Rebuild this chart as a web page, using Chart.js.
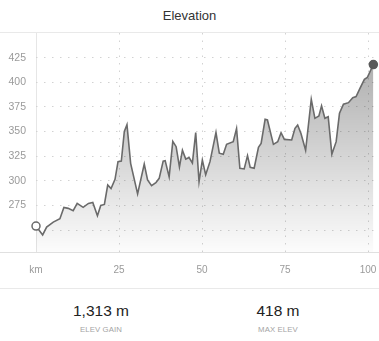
<!DOCTYPE html>
<html>
<head>
<meta charset="utf-8">
<script src="https://cdn.jsdelivr.net/npm/chart.js@4.4.1/dist/chart.umd.min.js"></script>
<style>
  html, body { margin: 0; padding: 0; background: #fff; }
  body { width: 379px; height: 341px; position: relative; overflow: hidden; font-family: "Liberation Sans", Arial, sans-serif; }
  #title { position: absolute; left: 0; top: 0; width: 379px; height: 32px; line-height: 32px; text-align: center; font-size: 13px; color: #333; }
  .sep { position: absolute; left: 0; width: 379px; height: 1px; background: #e9e9e9; }
  #chartWrap { position: absolute; left: 0; top: 33px; width: 379px; height: 255px; }
  .stat { position: absolute; width: 140px; text-align: center; }
  .val { font-size: 15.5px; color: #222; height: 20px; line-height: 20px; }
  .lab { font-size: 7.8px; color: #a4a4a4; letter-spacing: 0.1px; margin-top: 4px; }
</style>
</head>
<body>
<div id="title">Elevation</div>
<div class="sep" style="top:32px;"></div>
<div class="sep" style="top:252px;background:#e0e0e0;"></div>
<div id="chartWrap"><canvas id="c" width="379" height="255"></canvas></div>
<div class="sep" style="top:288px;"></div>
<div class="stat" style="left:31px;top:301px;"><div class="val" id="gainVal"></div><div class="lab" id="gainLab"></div></div>
<div class="stat" style="left:208px;top:301px;"><div class="val" id="maxVal"></div><div class="lab" id="maxLab"></div></div>
<script>
const distanceKm = [0, 2.0, 3.2, 5.2, 7.2, 8.4, 9.7, 11.2, 12.4, 14.2, 15.8, 17.1, 18.5, 19.5, 20.6, 21.6, 22.6, 23.8, 24.7, 25.7, 26.6, 27.4, 28.5, 30.6, 32.6, 33.6, 34.8, 36.1, 37.1, 38.3, 38.9, 40.1, 41.2, 42.2, 43.2, 44.1, 45.1, 46.1, 47.1, 48.1, 49.1, 50.1, 51.1, 52.4, 54.2, 55.2, 56.4, 57.4, 59.4, 60.4, 61.4, 62.7, 63.7, 64.5, 65.7, 67.0, 67.8, 69.0, 69.7, 71.5, 72.8, 73.8, 74.8, 77.0, 78.0, 78.8, 79.8, 81.2, 82.9, 84.0, 85.2, 86.0, 87.0, 88.0, 89.1, 90.4, 91.4, 92.6, 94.1, 95.4, 96.4, 97.6, 98.9, 99.8, 101.6];
const elevationM = [254, 245, 253, 258, 261.5, 273, 272, 269.6, 277, 273, 277, 278, 264.5, 275, 276, 295.7, 292, 301.5, 319.4, 320, 350, 357, 317.7, 286.6, 317, 300.8, 295, 298, 302.5, 320, 320.4, 304, 340, 334.6, 314, 331, 322, 323.5, 318, 349, 299, 321, 306, 319.4, 349, 328, 327, 337, 339.7, 353, 312.6, 312, 325.5, 313.7, 312.7, 334, 338, 362.4, 361.7, 337, 339.7, 348.8, 342, 341.4, 353.3, 356.6, 348, 331, 382.7, 363.4, 365.8, 376, 363.4, 365, 327, 339.7, 368.5, 377.7, 379.3, 384.4, 385.4, 394, 403, 405, 418];
const xTicks = [0, 25, 50, 75, 100];
const yTicks = [250, 275, 300, 325, 350, 375, 400, 425];
const yLabeled = [275, 300, 325, 350, 375, 400, 425];
const titleText = "Elevation";
const statValues = ["1,313 m", "418 m"];
const statLabels = ["ELEV GAIN", "MAX ELEV"];

document.getElementById('title').textContent = titleText;
document.getElementById('gainVal').textContent = statValues[0];
document.getElementById('maxVal').textContent = statValues[1];
document.getElementById('gainLab').textContent = statLabels[0];
document.getElementById('maxLab').textContent = statLabels[1];

const points = distanceKm.map((x, i) => ({x: x, y: elevationM[i]}));
const last = points.length - 1;
const zeroPad = (s) => { s.paddingTop = 0; s.paddingBottom = 0; s.paddingLeft = 0; s.paddingRight = 0; };

new Chart(document.getElementById('c'), {
  type: 'line',
  data: {
    datasets: [{
      data: points,
      borderColor: '#6a6a6a',
      borderWidth: 1.6,
      tension: 0,
      fill: 'start',
      clip: false,
      backgroundColor: (ctx) => {
        const chart = ctx.chart;
        const area = chart.chartArea;
        if (!area) return 'rgba(0,0,0,0.1)';
        const g = chart.ctx.createLinearGradient(0, area.top, 0, area.bottom);
        g.addColorStop(0, 'rgba(0,0,0,0.36)');
        g.addColorStop(1, 'rgba(0,0,0,0.01)');
        return g;
      },
      pointRadius: (ctx) => (ctx.dataIndex === 0 || ctx.dataIndex === last) ? 4 : 0,
      pointHoverRadius: 0,
      pointBackgroundColor: (ctx) => ctx.dataIndex === 0 ? '#ffffff' : '#5a5a5a',
      pointBorderColor: (ctx) => ctx.dataIndex === 0 ? '#6a6a6a' : '#5a5a5a',
      pointBorderWidth: 1.5
    }]
  },
  options: {
    responsive: false,
    devicePixelRatio: 1,
    animation: false,
    layout: { padding: 0, autoPadding: false },
    plugins: { legend: { display: false }, tooltip: { enabled: false }, title: { display: false } },
    events: [],
    scales: {
      x: {
        type: 'linear',
        min: 0,
        max: 103.3,
        afterBuildTicks: (s) => { s.ticks = xTicks.map(v => ({value: v})); },
        afterFit: (s) => { s.height = 36; zeroPad(s); },
        grid: { drawTicks: false, color: (ctx) => (ctx.tick && ctx.tick.value === 0) ? '#e6e6e6' : '#d2d2d2', lineWidth: 1 },
        border: { display: false, dash: (ctx) => (ctx.tick && ctx.tick.value === 0) ? [] : [1.5, 6] },
        ticks: {
          padding: 12,
          maxRotation: 0,
          color: '#9a9a9a',
          font: { family: '"Liberation Sans", Arial, sans-serif', size: 10 },
          callback: (v) => v === 0 ? 'km' : String(v)
        }
      },
      y: {
        type: 'linear',
        min: 227.7,
        max: 450,
        afterBuildTicks: (s) => { s.ticks = yTicks.map(v => ({value: v})); },
        afterFit: (s) => { s.width = 36; zeroPad(s); },
        grid: { drawTicks: false, color: '#d2d2d2', lineWidth: 1 },
        border: { display: false, dash: [1.5, 6.5] },
        ticks: {
          padding: 10,
          color: '#9a9a9a',
          font: { family: '"Liberation Sans", Arial, sans-serif', size: 10.5 },
          callback: (v) => yLabeled.includes(v) ? String(v) : ''
        }
      }
    }
  }
});
</script>
</body>
</html>
